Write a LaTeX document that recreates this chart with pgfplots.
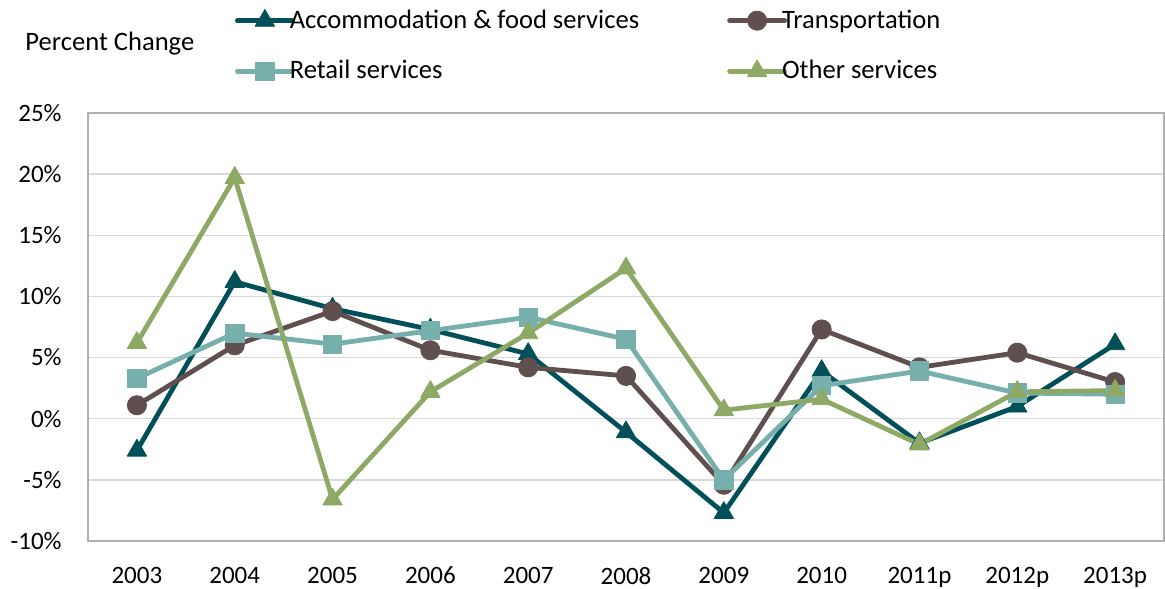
\documentclass[border=0pt]{standalone}
\usepackage{fontspec}
\setmainfont{Carlito}
\usepackage{pgfplots}
\pgfplotsset{compat=1.18}
\definecolor{accom}{HTML}{004F59}
\definecolor{trans}{HTML}{5F4F4E}
\definecolor{retail}{HTML}{77AFAC}
\definecolor{other}{HTML}{8EA865}
\definecolor{gridc}{HTML}{D9D9D9}
\definecolor{boxc}{HTML}{B0B0B0}
\begin{document}
\begin{tikzpicture}
\useasboundingbox (-44pt,-23.5pt) rectangle (538.5pt,270.5pt);
\begin{axis}[
  scale only axis, width=538pt, height=214pt,
  xmin=-0.5, xmax=10.5, ymin=-10, ymax=25,
  xtick={0,...,10},
  xticklabels={2003,2004,2005,2006,2007,2008,2009,2010,2011p,2012p,2013p},
  ytick={-10,-5,...,25},
  yticklabel={\pgfmathprintnumber{\tick}\%},
  /pgf/number format/assume math mode=true,
  major tick length=0pt,
  axis line style={boxc, line width=1pt},
  ymajorgrids, grid style={gridc, line width=0.75pt},
  tick label style={font=\fontsize{12.5}{15}\selectfont},
  yticklabel style={anchor=east, inner sep=0pt, xshift=-13pt},
  xticklabel style={anchor=north, inner sep=0pt, yshift=-12.8pt},
  every axis plot/.append style={line width=2.4pt, line join=round},
  legend image code/.code={
    \draw[mark repeat=2, mark phase=2, line cap=round, #1] plot coordinates {(0pt,0.4pt) (13.75pt,0.4pt) (27.5pt,0.4pt)};
  },
  legend columns=2,
  legend cell align=left,
  legend style={at={(axis description cs:0.1366,1.2442)}, anchor=north west,
    draw=none, fill=none, inner sep=0pt, outer sep=0pt,
    row sep=12.25pt, column sep=-2.5pt,
    font=\fontsize{13.3}{16}\selectfont,
    nodes={inner sep=0pt, text height=10pt, text depth=3pt},
    /tikz/every even column/.append style={column sep=44pt}},
]
\addplot[accom, mark=triangle*, mark size=5.6pt, mark options={solid, line width=0.4pt}] coordinates {
(0,-2.6) (1,11.2) (2,9.0) (3,7.3) (4,5.3) (5,-1.1) (6,-7.7) (7,3.9) (8,-2.0) (9,1.0) (10,6.1)};
\addlegendentry{Accommodation \& food services}
\addplot[trans, mark=*, mark size=4.8pt, mark options={solid, line width=0.4pt}] coordinates {
(0,1.1) (1,6.0) (2,8.8) (3,5.6) (4,4.2) (5,3.5) (6,-5.4) (7,7.3) (8,4.2) (9,5.4) (10,3.0)};
\addlegendentry{Transportation}
\addplot[retail, mark=square*, mark size=4.6pt, mark options={solid, line width=0.4pt}] coordinates {
(0,3.3) (1,7.0) (2,6.1) (3,7.2) (4,8.3) (5,6.5) (6,-5.0) (7,2.7) (8,3.9) (9,2.1) (10,2.0)};
\addlegendentry{Retail services}
\addplot[other, mark=triangle*, mark size=5.6pt, mark options={solid, line width=0.4pt}] coordinates {
(0,6.2) (1,19.7) (2,-6.6) (3,2.2) (4,7.0) (5,12.3) (6,0.7) (7,1.6) (8,-2.1) (9,2.2) (10,2.3)};
\addlegendentry{Other services}
\end{axis}
\node[anchor=base west, inner sep=0pt, font=\fontsize{13.3}{16}\selectfont] at (-31.5pt,245.25pt) {Percent Change};
\end{tikzpicture}
\end{document}
